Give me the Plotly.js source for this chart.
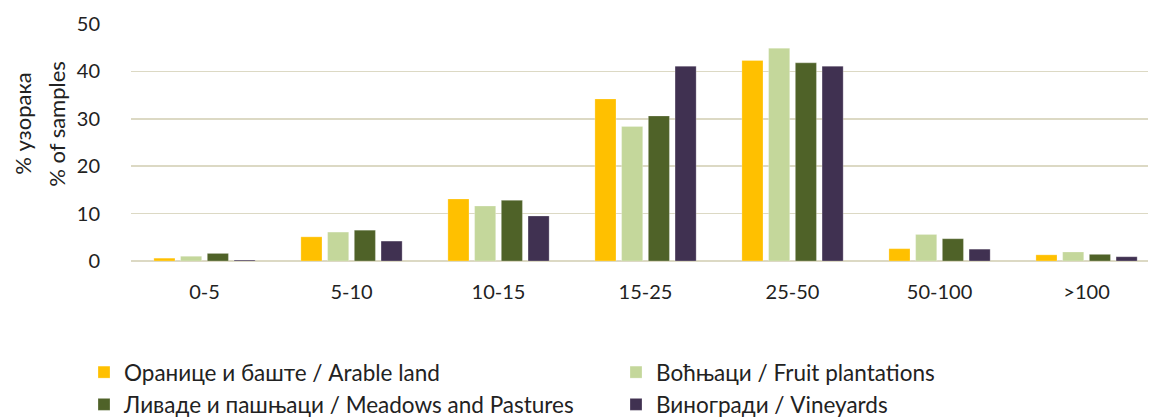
<!DOCTYPE html>
<html>
<head>
<meta charset="utf-8">
<script src="https://cdn.plot.ly/plotly-3.0.1.min.js"></script>
<style>html,body{margin:0;padding:0;overflow:hidden;background:#fff}</style>
</head>
<body>
<div id="chart" style="width:1150px;height:419px"></div>
<script>
const categories = ["0-5", "5-10", "10-15", "15-25", "25-50", "50-100", ">100"];
const arable = [0.6, 5.1, 13.1, 34.2, 42.3, 2.6, 1.3];
const fruit = [1.0, 6.1, 11.6, 28.4, 44.9, 5.6, 1.9];
const meadows = [1.6, 6.5, 12.8, 30.6, 41.8, 4.7, 1.4];
const vineyards = [0.2, 4.2, 9.5, 41.1, 41.1, 2.5, 0.9];
const seriesNames = [
  "Оранице и баште / Arable land",
  "Воћњаци / Fruit plantations",
  "Ливаде и пашњаци / Meadows and Pastures",
  "Виногради / Vineyards"
];
const colors = ["#FFC000", "#C4D79B", "#4F6228", "#403151"];
const legendIds = ["legend", "legend2", "legend", "legend2"];
const seriesValues = [arable, fruit, meadows, vineyards];

const font = "Lato, 'Open Sans', sans-serif";
const traces = seriesValues.map((vals, i) => ({
  type: "bar",
  x: categories,
  y: vals,
  name: seriesNames[i],
  legend: legendIds[i],
  marker: {color: colors[i], line: {color: "rgba(255,255,255,0.5)", width: 0.5}},
  hoverinfo: "x+y+name"
}));

const legendCommon = {
  orientation: "v",
  xref: "container", yref: "container",
  xanchor: "left", yanchor: "top",
  itemwidth: 30,
  tracegroupgap: 0,
  font: {family: font, size: 22.5, color: "#222"},
  bgcolor: "rgba(0,0,0,0)"
};

const layout = {
  width: 1150,
  height: 419,
  margin: {l: 131, r: 2, t: 24, b: 158, autoexpand: false},
  paper_bgcolor: "#fff",
  plot_bgcolor: "#fff",
  font: {family: font, size: 20, color: "#222"},
  barmode: "group",
  bargap: 0.273,
  bargroupgap: 0.21,
  showlegend: true,
  xaxis: {
    type: "category",
    range: [-0.5, 6.418],
    showgrid: false,
    zeroline: false,
    showline: false,
    ticks: "",
    tickfont: {family: font, size: 20, color: "#222"},
    ticklabelstandoff: 17
  },
  yaxis: {
    range: [0, 50],
    tickvals: [0, 10, 20, 30, 40, 50],
    showgrid: true,
    gridcolor: "#DCD9C4",
    gridwidth: 1.6,
    zeroline: true,
    zerolinecolor: "#DCD9C4",
    zerolinewidth: 1.6,
    showline: false,
    ticks: "",
    tickfont: {family: font, size: 20, color: "#222"},
    ticklabelstandoff: 30
  },
  annotations: [
    {
      text: "% узорака",
      textangle: -90,
      xref: "paper", yref: "paper",
      x: -0.107, y: 0.58,
      xanchor: "center", yanchor: "middle",
      showarrow: false,
      font: {family: font, size: 22, color: "#222"}
    },
    {
      text: "% of samples",
      textangle: -90,
      xref: "paper", yref: "paper",
      x: -0.0735, y: 0.58,
      xanchor: "center", yanchor: "middle",
      showarrow: false,
      font: {family: font, size: 22, color: "#222"}
    }
  ],
  legend: Object.assign({}, legendCommon, {x: 84 / 1150, y: 1 - 351 / 419}),
  legend2: Object.assign({}, legendCommon, {x: 616 / 1150, y: 1 - 351 / 419})
};

Plotly.newPlot("chart", traces, layout, {displayModeBar: false, staticPlot: true});
</script>
</body>
</html>
